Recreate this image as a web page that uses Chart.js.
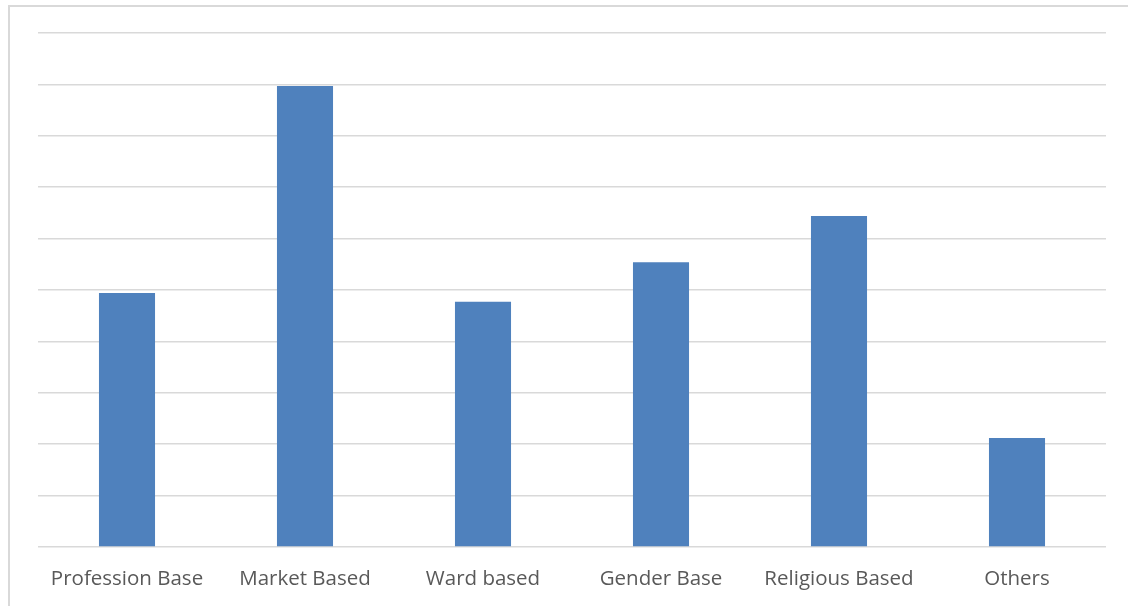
<!DOCTYPE html>
<html lang="en">
<head>
    <meta charset="UTF-8">
    <title>Bar chart</title>
    <script src="https://cdn.jsdelivr.net/npm/chart.js"></script>
    <style>
        body {
            margin: 0;
            background: #fff;
            overflow: hidden;
        }
        .frame {
            position: absolute;
            left: 8px;
            top: 5px;
            width: 1200px;
            height: 700px;
            border: 2px solid #d9d9d9;
        }
        #chart {
            position: absolute;
            left: 0;
            top: 0;
        }
    </style>
</head>
<body>
    <div class="frame"></div>
    <canvas id="chart" width="1128" height="606"></canvas>

    <script>
        // Data (no axis labels shown, gridlines every 1 unit)
        const categories = ['Profession Base', 'Market Based', 'Ward based', 'Gender Base', 'Religious Based', 'Others'];
        const values = [4.94, 8.97, 4.77, 5.54, 6.44, 2.12];

        const ctx = document.getElementById('chart').getContext('2d');
        const chart = new Chart(ctx, {
            type: 'bar',
            data: {
                labels: categories,
                datasets: [{
                    data: values,
                    backgroundColor: '#4f81bd',
                    categoryPercentage: 1,
                    barPercentage: 0.315
                }]
            },
            options: {
                responsive: false,
                animation: false,
                layout: {
                    padding: { left: 38, right: 22, top: 33, bottom: 0 }
                },
                plugins: {
                    legend: { display: false },
                    tooltip: { enabled: false }
                },
                scales: {
                    x: {
                        grid: { display: false },
                        border: { display: false },
                        ticks: {
                            color: '#595959',
                            font: { family: 'Open Sans', size: 20.5 },
                            padding: 12,
                            maxRotation: 0
                        },
                        afterFit: (scale) => { scale.height = 59; }
                    },
                    y: {
                        min: 0,
                        max: 10,
                        ticks: { display: false, stepSize: 1 },
                        border: { display: false },
                        grid: { color: '#d9d9d9', lineWidth: 1.5, drawTicks: false },
                        afterFit: (scale) => { scale.width = 0; }
                    }
                }
            }
        });
    </script>
</body>
</html>
